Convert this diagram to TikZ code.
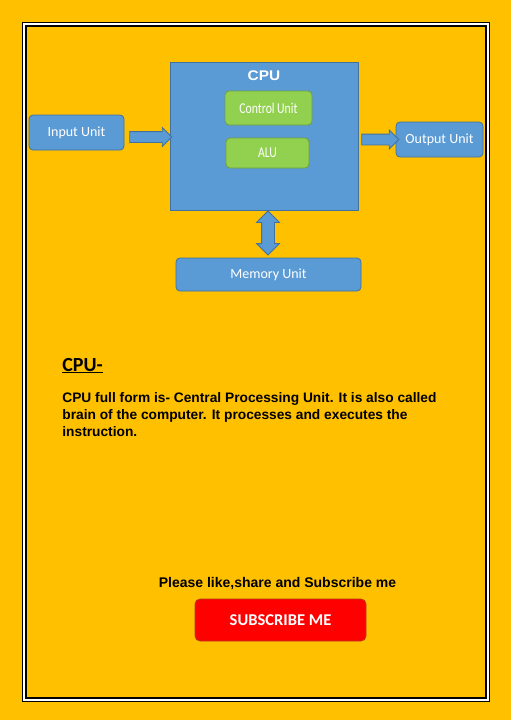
\documentclass[tikz,border=0pt]{standalone}
\usepackage{fontspec}
\usepackage{graphicx}
\setmainfont{Liberation Sans}
\newfontfamily\carlito{Carlito}
\usetikzlibrary{arrows.meta, positioning, shapes.arrows}

\definecolor{gold}{HTML}{FFC000}
\definecolor{cpublue}{HTML}{5B9BD5}
\definecolor{blueline}{HTML}{41719C}
\definecolor{unitgreen}{HTML}{92D050}
\definecolor{greenline}{HTML}{6E9E3A}
\definecolor{btnred}{HTML}{FF0000}
\definecolor{btnline}{HTML}{B43C1E}

\begin{document}
\begin{tikzpicture}[
    x=1pt, y=-1pt,
    line width=0.8pt,
    every node/.style={inner sep=0pt},
    unit/.style={rectangle, draw=blueline, fill=cpublue, rounded corners=4pt, text=white,
                 font=\carlito\fontsize{14}{16}\selectfont},
    part/.style={rectangle, draw=greenline, fill=unitgreen, rounded corners=4pt, text=white,
                 font=\carlito\fontsize{15}{17}\selectfont},
    blockarrow/.style={single arrow, draw=blueline, fill=cpublue, text height=5pt, text depth=5pt,
                       single arrow head extend=4pt, single arrow tip angle=90},
    bodytext/.style={font=\bfseries\fontsize{13.75}{17}\selectfont, align=left}
]

% ----------------------
% Page and frame
% ----------------------
\fill[gold] (0,0) rectangle (511,720);
\useasboundingbox (0,0) rectangle (511,720);
\draw[white, line width=3pt] (23.5,23.5) rectangle (487.5,699.5);
\draw[black, line width=1pt] (22,22) rectangle (489,701);
\draw[black, line width=2pt] (25.5,25.5) rectangle (485.5,697.5);

% ----------------------
% Nodes
% ----------------------

% CPU block
\node[rectangle, draw=blueline, fill=cpublue, minimum width=188pt, minimum height=148pt] (cpu) at (264,136) {};
\node[text=white, font=\bfseries\fontsize{14}{16}\selectfont] (cpulabel) at (264,76) {\scalebox{1.1}[1]{CPU}};

% Control unit and ALU
\node[part, minimum width=87pt, minimum height=34pt] (ctrl) at (268.5,108) {\scalebox{0.78}[1]{Control Unit}};
\node[part, minimum width=83pt, minimum height=30pt] (alu) at (267.5,153) {\scalebox{0.78}[1]{ALU}};

% Input, output, memory
\node[unit, minimum width=95pt, minimum height=35pt] (inp) at (76.5,132.5) {Input Unit};
\node[unit, minimum width=87pt, minimum height=35pt] (outp) at (439.5,139.5) {Output Unit};
\node[unit, minimum width=185pt, minimum height=33pt] (mem) at (268.5,274.5) {Memory Unit};

% ----------------------
% Block arrows
% ----------------------
\node[blockarrow, minimum height=42pt] (inarrow) at (148,137) {};
\node[blockarrow, minimum height=37pt] (outarrow) at (377.5,139.5) {};
\node[double arrow, draw=blueline, fill=cpublue, text height=6pt, text depth=6pt, minimum height=44pt,
      double arrow head extend=5pt, double arrow tip angle=90, rotate=90] (memarrow) at (268,233) {};

% ----------------------
% Text
% ----------------------
\node[anchor=base west, font=\carlito\bfseries\fontsize{20}{24}\selectfont] (title) at (62,371) {\underline{CPU-}};
\node[bodytext, anchor=north west] (desc) at (62,392)
    {CPU full form is- Central Processing Unit. It is also called\\
     brain of the computer. It processes and executes the\\
     instruction.};

\node[anchor=base, font=\bfseries\fontsize{14}{16}\selectfont] (please) at (277.5,587) {Please like,share and Subscribe me};

% Subscribe button
\node[rectangle, draw=btnline, fill=btnred, rounded corners=5pt, minimum width=171pt, minimum height=42pt,
      text=white, font=\carlito\bfseries\fontsize{16.5}{18}\selectfont] (subscribe) at (280.5,620) {SUBSCRIBE ME};

\end{tikzpicture}
\end{document}
